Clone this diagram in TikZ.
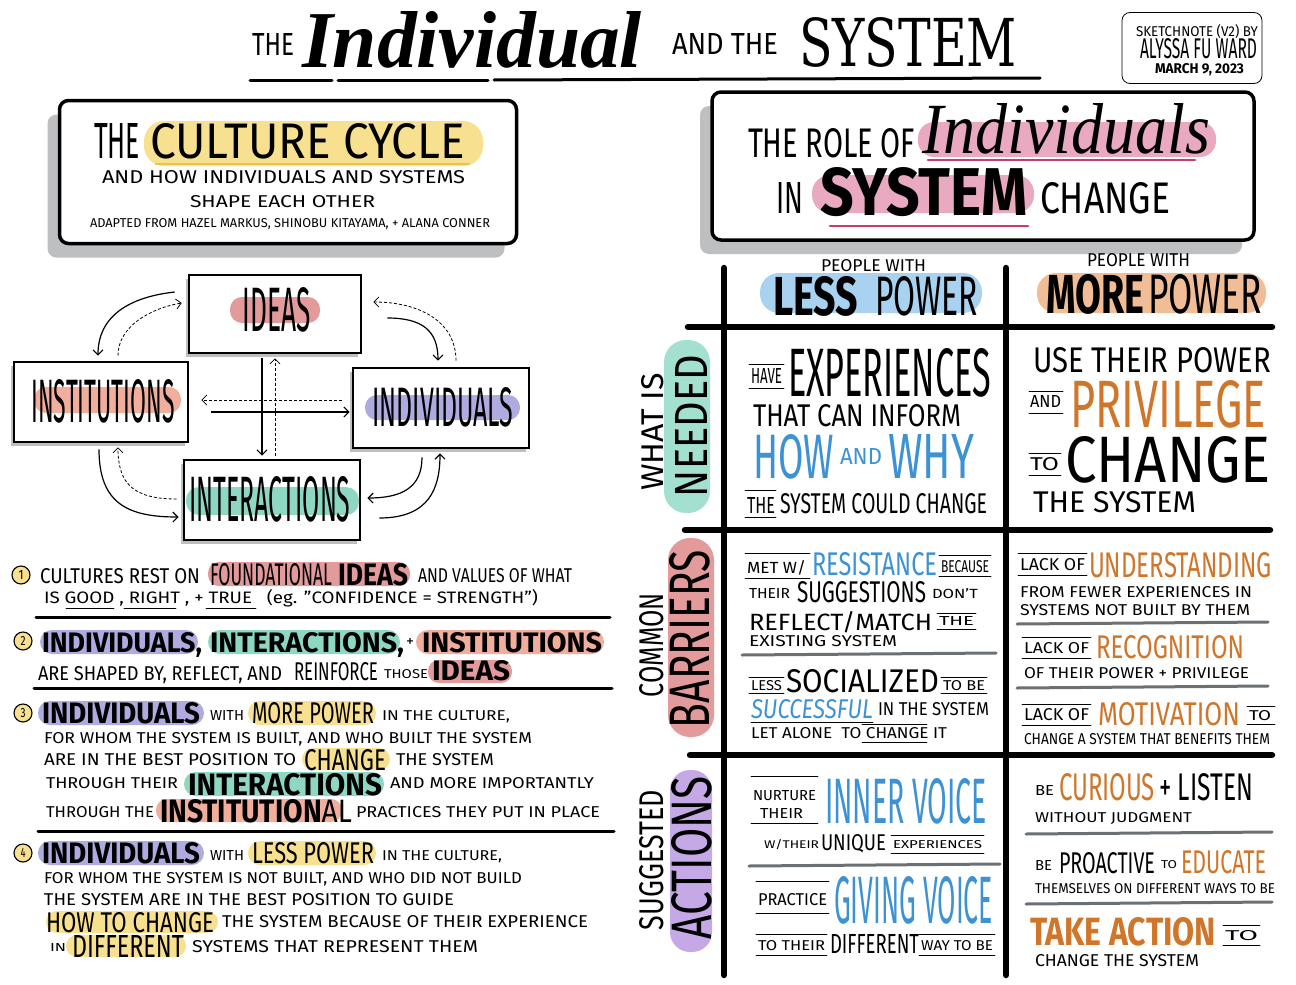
\documentclass[tikz,border=0pt]{standalone}
\usepackage{fontspec}
\setmainfont{Fira Sans}
\newfontfamily\brushfont{Liberation Serif}
\newfontfamily\slabfont{DejaVu Serif}
\usepackage{graphicx}
\usepackage{tikz}
\usetikzlibrary{positioning,calc,arrows.meta,shadows}

\definecolor{hlyellow}{HTML}{F7E08F}
\definecolor{hlred}{HTML}{E39A9B}
\definecolor{hlsalmon}{HTML}{F1AE9D}
\definecolor{hlpurple}{HTML}{ADABDF}
\definecolor{hlteal}{HTML}{8ED8C3}
\definecolor{hlblue}{HTML}{A8D2F0}
\definecolor{hlorange}{HTML}{F0BD97}
\definecolor{hlpink}{HTML}{E9A9C1}
\definecolor{hllilac}{HTML}{C5A8E6}
\definecolor{magline}{HTML}{C83A72}
\definecolor{inkblue}{HTML}{3D92D4}
\definecolor{inkorange}{HTML}{D0762A}
\definecolor{sepgray}{HTML}{6B7075}
\definecolor{shadowgray}{HTML}{BDBFC1}
\definecolor{yellowline}{HTML}{E8C447}

\newcommand{\hand}[3]{\resizebox{#1pt}{#2pt}{#3}}

\begin{document}
\begin{tikzpicture}[x=1pt,y=-1pt,
		txt/.style={anchor=base west,inner sep=0pt,outer sep=0pt},
		vtxt/.style={rotate=90,inner sep=0pt},
		pen/.style={line width=3pt,line cap=round},
		fine/.style={line width=0.9pt,line cap=round},
		rule/.style={line width=6.5pt,line cap=round},
		seprule/.style={sepgray,line width=3pt,line cap=round},
		box/.style={draw,line width=2.6pt,fill=white,minimum width=174pt,minimum height=80pt,inner sep=0pt,
			drop shadow={shadow xshift=-3pt,shadow yshift=-4pt,fill=shadowgray,opacity=1}},
		titlebox/.style={draw,line width=3.5pt,fill=white,rounded corners=9pt,inner sep=0pt,
			drop shadow={shadow xshift=-12pt,shadow yshift=-14pt,fill=shadowgray,opacity=1}},
		arr/.style={line width=1.2pt,-{Straight Barb[length=5pt,width=10pt]}},
		darr/.style={arr,line width=0.8pt,dash pattern=on 3pt off 2pt},
		numdot/.style={circle,draw,line width=1.1pt,fill=hlyellow,minimum size=18pt,inner sep=0pt}
	]

		% Page
		\useasboundingbox (0,0) rectangle (1296,985);
		\fill[white] (0,0) rectangle (1296,985);

		% Title
		\node[txt] (tthe) at (252,55) {\hand{42}{22}{THE}};
		\node[txt] (tindiv) at (302,67) {\hand{340}{56}{\brushfont\bfseries\itshape Individual}};
		\node[txt] (tand) at (672,54) {\hand{106}{21}{AND THE}};
		\node[txt] (tsys) at (799,66) {\hand{218}{49}{\slabfont SYSTEM}};
		\draw[pen] (250,80) -- (332,80);
		\draw[pen] (338,80) -- (488,80);
		\draw[pen] (494,80) -- (1040,78);

		% Credit
		\node[draw,line width=0.8pt,rounded corners=8pt,minimum width=140pt,minimum height=71pt] (credit) at (1192,48) {};
		\node[txt] (cr1) at (1136,36) {\hand{122}{12}{SKETCHNOTE (V2) BY}};
		\node[txt] (cr2) at (1140,58) {\hand{117}{20}{ALYSSA FU WARD}};
		\node[txt] (cr3) at (1155,74) {\hand{89}{10}{\bfseries MARCH 9, 2023}};

		% The culture cycle
		\node[titlebox,minimum width=457pt,minimum height=143pt] (cyclebox) at (288,172) {};
		\fill[hlyellow,rounded corners=20pt] (144,121) rectangle (483,166);
		\draw[yellowline,line width=2.5pt,line cap=round] (156,164) -- (469,164);
		\node[txt] (cthe) at (94,158) {\hand{46}{35}{THE}};
		\node[txt] (ctitle) at (150,158) {\hand{315}{35}{CULTURE CYCLE}};
		\node[txt] (csub1) at (102,183) {\hand{363}{13}{AND HOW INDIVIDUALS AND SYSTEMS}};
		\node[txt] (csub2) at (190,207) {\hand{185}{12}{SHAPE EACH OTHER}};
		\node[txt] (csrc) at (90,227) {\hand{400}{9}{ADAPTED FROM HAZEL MARKUS, SHINOBU KITAYAMA, + ALANA CONNER}};

		% The role of individuals
		\node[titlebox,minimum width=542pt,minimum height=148pt] (rolebox) at (983,166) {};
		\fill[hlpink,rounded corners=16pt] (918,122) rectangle (1216,157);
		\fill[hlpink,rounded corners=18pt] (812,175) rectangle (1034,213);
		\draw[magline,line width=2.5pt,line cap=round] (928,160) -- (1195,160);
		\draw[magline,line width=2.5pt,line cap=round] (830,226) -- (1028,226);
		\node[txt] (rthe) at (748,157) {\hand{167}{29}{THE ROLE OF}};
		\node[txt] (rindiv) at (922,153) {\hand{288}{50}{\brushfont\itshape Individuals}};
		\node[txt] (rin) at (776,213) {\hand{27}{31}{IN}};
		\node[txt] (rsys) at (820,215) {\hand{208}{48}{\bfseries SYSTEM}};
		\node[txt] (rchange) at (1040,213) {\hand{130}{31}{CHANGE}};

		% Cycle boxes
		\node[box,minimum width=172pt,minimum height=78pt] (ideas) at (275,314) {};
		\node[box] (inst) at (101,402) {};
		\node[box,minimum width=176pt] (indiv) at (441,408) {};
		\node[box,minimum width=176pt] (inter) at (272,500) {};
		\fill[hlred,rounded corners=12pt] (230,297) rectangle (320,323);
		\fill[hlsalmon,rounded corners=12pt] (34,387) rectangle (181,413);
		\fill[hlpurple,rounded corners=12pt] (365,395) rectangle (520,420);
		\fill[hlteal,rounded corners=13pt] (186,487) rectangle (359,515);
		\node[inner sep=0pt] (lideas) at (277,310) {\hand{68}{44}{IDEAS}};
		\node[inner sep=0pt] (linst) at (103,401) {\hand{143}{43}{INSTITUTIONS}};
		\node[inner sep=0pt] (lindiv) at (443,407) {\hand{141}{39}{INDIVIDUALS}};
		\node[inner sep=0pt] (linter) at (270,499) {\hand{161}{45}{INTERACTIONS}};

		% Cycle arrows
		\draw[arr] ($(ideas.west)+(-13,-22)$) .. controls +(-45,5) and +(0,-40) .. ($(inst.north)+(-3,-5)$);
		\draw[darr] ($(inst.north)+(17,-5)$) .. controls +(0,-30) and +(-30,5) .. ($(ideas.west)+(-6,-11)$);
		\draw[arr] ($(ideas.east)+(25,4)$) .. controls +(35,0) and +(0,-30) .. ($(indiv.north)+(-3,-6)$);
		\draw[darr] ($(indiv.north)+(15,-6)$) .. controls +(0,-40) and +(45,0) .. ($(ideas.east)+(11,-12)$);
		\draw[arr] ($(indiv.south)+(-19,8)$) .. controls +(0,30) and +(35,0) .. ($(inter.east)+(6,-2)$);
		\draw[arr] ($(inter.east)+(18,18)$) .. controls +(50,0) and +(0,35) .. ($(indiv.south)+(-1,4)$);
		\draw[arr] ($(inst.south)+(-2,6)$) .. controls +(0,55) and +(-50,0) .. ($(inter.west)+(-4,17)$);
		\draw[darr] ($(inter.west)+(-6,-1)$) .. controls +(-45,0) and +(0,35) .. ($(inst.south)+(17,4)$);
		\draw[arr] ($(ideas.south)+(-13,4)$) -- ($(inter.north)+(-10,-3)$);
		\draw[darr] ($(inter.north)+(3,-3)$) -- ($(ideas.south)+(0,4)$);
		\draw[darr] ($(indiv.west)+(-10,-8)$) -- ($(inst.east)+(12,-2)$);
		\draw[arr] ($(inst.east)+(22,10)$) -- ($(indiv.west)+(-2,4)$);

		% Point 1
		\node[numdot] (n1) at (21,575) {\hand{5}{9}{1}};
		\fill[hlred,rounded corners=11pt] (208,562) rectangle (410,586);
		\node[txt] (p1a) at (40,583) {\hand{160}{15}{CULTURES REST ON}};
		\node[txt] (p1b) at (210,585) {\hand{122}{22}{FOUNDATIONAL}};
		\node[txt] (p1c) at (338,585) {\hand{70}{22}{\bfseries IDEAS}};
		\node[txt] (p1d) at (418,582) {\hand{154}{14}{AND VALUES OF WHAT}};
		\node[txt] (p1e) at (44,603) {\hand{494}{14}{IS GOOD , RIGHT , + TRUE \ \ (eg. "CONFIDENCE = STRENGTH")}};
		\draw[fine] (66,608) -- (114,608);
		\draw[fine] (124,608) -- (176,608);
		\draw[fine] (206,608) -- (256,608);
		\draw[pen] (36,617) -- (610,617);

		% Point 2
		\node[numdot] (n2) at (23,641) {\hand{5}{9}{2}};
		\fill[hlpurple,rounded corners=12pt] (40,630) rectangle (198,654);
		\fill[hlteal,rounded corners=12pt] (208,630) rectangle (400,654);
		\fill[hlsalmon,rounded corners=12pt] (416,630) rectangle (604,654);
		\node[txt] (p2a) at (42,652) {\hand{160}{20}{\bfseries INDIVIDUALS,}};
		\node[txt] (p2b) at (210,652) {\hand{194}{20}{\bfseries INTERACTIONS,}};
		\node[txt] (p2c) at (406,646) {\hand{8}{8}{+}};
		\node[txt] (p2d) at (422,652) {\hand{180}{20}{\bfseries INSTITUTIONS}};
		\fill[hlred,rounded corners=11pt] (428,660) rectangle (512,683);
		\node[txt] (p2e) at (38,680) {\hand{244}{14}{ARE SHAPED BY, REFLECT, AND}};
		\node[txt] (p2f) at (294,680) {\hand{84}{18}{REINFORCE}};
		\node[txt] (p2g) at (384,678) {\hand{44}{9}{THOSE}};
		\node[txt] (p2h) at (432,680) {\hand{78}{20}{\bfseries IDEAS}};
		\draw[pen] (34,688) -- (612,688);

		% Point 3
		\node[numdot] (n3) at (23,713) {\hand{5}{9}{3}};
		\fill[hlpurple,rounded corners=12pt] (38,701) rectangle (204,725);
		\fill[hlyellow,rounded corners=12pt] (248,701) rectangle (376,725);
		\node[txt] (p3a) at (42,723) {\hand{158}{21}{\bfseries INDIVIDUALS}};
		\node[txt] (p3b) at (210,720) {\hand{34}{10}{WITH}};
		\node[txt] (p3c) at (252,723) {\hand{122}{21}{MORE POWER}};
		\node[txt] (p3d) at (382,720) {\hand{128}{10}{IN THE CULTURE,}};
		\node[txt] (p3e) at (44,743) {\hand{488}{11}{FOR WHOM THE SYSTEM IS BUILT, AND WHO BUILT THE SYSTEM}};
		\fill[hlyellow,rounded corners=11pt] (302,748) rectangle (390,770);
		\node[txt] (p3f) at (44,765) {\hand{252}{12}{ARE IN THE BEST POSITION TO}};
		\node[txt] (p3g) at (304,770) {\hand{82}{21}{CHANGE}};
		\node[txt] (p3h) at (396,765) {\hand{98}{12}{THE SYSTEM}};
		\fill[hlteal,rounded corners=12pt] (184,772) rectangle (384,796);
		\node[txt] (p3i) at (46,788) {\hand{132}{11}{THROUGH THEIR}};
		\node[txt] (p3j) at (188,795) {\hand{194}{22}{\bfseries INTERACTIONS}};
		\node[txt] (p3k) at (390,788) {\hand{204}{11}{AND MORE IMPORTANTLY}};
		\fill[hlsalmon,rounded corners=11pt] (156,799) rectangle (342,822);
		\node[txt] (p3l) at (46,817) {\hand{108}{11}{THROUGH THE}};
		\node[txt] (p3m) at (160,822) {\hand{192}{23}{{\bfseries INSTITUTION}AL}};
		\node[txt] (p3n) at (356,817) {\hand{244}{11}{PRACTICES THEY PUT IN PLACE}};
		\draw[pen] (38,831) -- (614,831);

		% Point 4
		\node[numdot] (n4) at (23,853) {\hand{5}{9}{4}};
		\fill[hlpurple,rounded corners=12pt] (38,841) rectangle (204,865);
		\fill[hlyellow,rounded corners=12pt] (248,841) rectangle (376,865);
		\node[txt] (p4a) at (42,863) {\hand{158}{21}{\bfseries INDIVIDUALS}};
		\node[txt] (p4b) at (210,860) {\hand{34}{10}{WITH}};
		\node[txt] (p4c) at (252,863) {\hand{122}{21}{LESS POWER}};
		\node[txt] (p4d) at (382,860) {\hand{120}{10}{IN THE CULTURE,}};
		\node[txt] (p4e) at (44,883) {\hand{478}{11}{FOR WHOM THE SYSTEM IS NOT BUILT, AND WHO DID NOT BUILD}};
		\node[txt] (p4f) at (44,905) {\hand{410}{12}{THE SYSTEM ARE IN THE BEST POSITION TO GUIDE}};
		\fill[hlyellow,rounded corners=11pt] (46,911) rectangle (218,933);
		\node[txt] (p4g) at (46,932) {\hand{168}{20}{HOW TO CHANGE}};
		\node[txt] (p4h) at (222,927) {\hand{366}{12}{THE SYSTEM BECAUSE OF THEIR EXPERIENCE}};
		\fill[hlyellow,rounded corners=11pt] (66,935) rectangle (186,957);
		\node[txt] (p4i) at (50,951) {\hand{16}{8}{IN}};
		\node[txt] (p4j) at (72,957) {\hand{112}{22}{DIFFERENT}};
		\node[txt] (p4k) at (192,952) {\hand{286}{12}{SYSTEMS THAT REPRESENT THEM}};

		% Grid
		\draw[rule] (724,268) -- (724,975);
		\draw[rule] (1006,268) -- (1006,975);
		\draw[rule] (688,327) -- (1272,327);
		\draw[rule] (685,530) -- (1270,530);
		\draw[rule] (690,755) -- (1272,755);

		% Column heads
		\fill[hlblue,rounded corners=19pt] (760,273) rectangle (982,313);
		\fill[hlorange,rounded corners=19pt] (1037,273) rectangle (1266,313);
		\node[txt] (hless1) at (821,271) {\hand{105}{12}{PEOPLE WITH}};
		\node[txt] (hless2) at (773,315) {\hand{85}{39}{\bfseries LESS}};
		\node[txt] (hless3) at (875,315) {\hand{103}{39}{POWER}};
		\node[txt] (hmore1) at (1087,266) {\hand{103}{13}{PEOPLE WITH}};
		\node[txt] (hmore2) at (1046,313) {\hand{98}{39}{\bfseries MORE}};
		\node[txt] (hmore3) at (1148,313) {\hand{114}{39}{POWER}};

		% Row heads
		\fill[hlteal!80,rounded corners=22pt] (664,340) rectangle (710,513);
		\fill[hlred,rounded corners=22pt] (668,538) rectangle (714,737);
		\fill[hllilac,rounded corners=20pt] (670,770) rectangle (712,952);
		\node[vtxt] (rwhat) at (653,432) {\hand{117}{22}{WHAT IS}};
		\node[vtxt] (rneed) at (691,426) {\hand{142}{32}{NEEDED}};
		\node[vtxt] (rcommon) at (652,645) {\hand{104}{24}{COMMON}};
		\node[vtxt] (rbarr) at (690,639) {\hand{178}{40}{BARRIERS}};
		\node[vtxt] (rsugg) at (652,860) {\hand{140}{24}{SUGGESTED}};
		\node[vtxt] (ract) at (692,858) {\hand{163}{40}{ACTIONS}};

		% Needed, less power
		\node[txt] (a1) at (751,383) {\hand{31}{15}{HAVE}};
		\draw[fine] (749,364) -- (784,364);
		\draw[fine] (749,388) -- (784,388);
		\node[txt] (a2) at (788,396) {\hand{203}{48}{EXPERIENCES}};
		\node[txt] (a3) at (753,426) {\hand{208}{22}{THAT CAN INFORM}};
		\node[txt] (a4) at (753,478) {\hand{81}{44}{\color{inkblue}HOW}};
		\node[txt] (a5) at (840,464) {\hand{42}{16}{\color{inkblue}AND}};
		\node[txt] (a6) at (888,478) {\hand{86}{44}{\color{inkblue}WHY}};
		\node[txt] (a7) at (747,513) {\hand{28}{16}{THE}};
		\draw[fine] (745,490) -- (776,490);
		\draw[fine] (745,517) -- (776,517);
		\node[txt] (a8) at (780,513) {\hand{207}{20}{SYSTEM COULD CHANGE}};

		% Needed, more power
		\node[txt] (b1) at (1033,372) {\hand{238}{25}{USE THEIR POWER}};
		\node[txt] (b2) at (1030,407) {\hand{31}{12}{AND}};
		\draw[fine] (1029,391) -- (1063,391);
		\draw[fine] (1029,413) -- (1063,413);
		\node[txt] (b3) at (1070,427) {\hand{196}{47}{\color{inkorange}PRIVILEGE}};
		\node[txt] (b4) at (1030,470) {\hand{29}{13}{TO}};
		\draw[fine] (1029,453) -- (1061,453);
		\draw[fine] (1029,475) -- (1061,475);
		\node[txt] (b5) at (1065,482) {\hand{206}{46}{CHANGE}};
		\node[txt] (b6) at (1033,512) {\hand{163}{21}{THE SYSTEM}};

		% Barriers, less power
		\node[txt] (c1) at (747,573) {\hand{59}{13}{MET W/}};
		\draw[fine] (745,553) -- (810,553);
		\draw[fine] (745,578) -- (810,578);
		\node[txt] (c2) at (812,575) {\hand{125}{23}{\color{inkblue}RESISTANCE}};
		\node[txt] (c3) at (941,572) {\hand{48}{12}{BECAUSE}};
		\draw[fine] (939,555) -- (991,555);
		\draw[fine] (939,576) -- (991,576);
		\node[txt] (c4) at (749,598) {\hand{41}{10}{THEIR}};
		\node[txt] (c5) at (797,602) {\hand{129}{21}{SUGGESTIONS}};
		\node[txt] (c6) at (932,598) {\hand{46}{10}{DON'T}};
		\node[txt] (c7) at (749,630) {\hand{183}{19}{REFLECT/MATCH}};
		\node[txt] (c8) at (939,625) {\hand{35}{9}{THE}};
		\draw[fine] (937,613) -- (976,613);
		\draw[fine] (937,629) -- (976,629);
		\node[txt] (c9) at (749,646) {\hand{148}{11}{EXISTING SYSTEM}};
		\draw[seprule] (742,655) -- (996,653);
		\node[txt] (c10) at (751,690) {\hand{31}{10}{LESS}};
		\draw[fine] (749,677) -- (784,677);
		\draw[fine] (749,693) -- (784,693);
		\node[txt] (c11) at (786,692) {\hand{153}{23}{SOCIALIZED}};
		\node[txt] (c12) at (943,690) {\hand{42}{10}{TO BE}};
		\draw[fine] (941,677) -- (987,677);
		\draw[fine] (941,693) -- (987,693);
		\node[txt] (c13) at (751,718) {\hand{122}{19}{\color{inkblue}\itshape SUCCESSFUL}};
		\draw[fine] (751,722) -- (873,722);
		\node[txt] (c14) at (878,715) {\hand{111}{13}{IN THE SYSTEM}};
		\node[txt] (c15) at (751,738) {\hand{196}{11}{LET ALONE \ TO CHANGE IT}};
		\draw[fine] (862,724) -- (927,724);
		\draw[fine] (862,742) -- (927,742);

		% Barriers, more power
		\node[txt] (d1) at (1020,570) {\hand{65}{12}{LACK OF}};
		\draw[fine] (1018,553) -- (1087,553);
		\draw[fine] (1018,575) -- (1087,575);
		\node[txt] (d2) at (1089,577) {\hand{183}{25}{\color{inkorange}UNDERSTANDING}};
		\node[txt] (d3) at (1020,597) {\hand{232}{11}{FROM FEWER EXPERIENCES IN}};
		\node[txt] (d4) at (1020,615) {\hand{230}{11}{SYSTEMS NOT BUILT BY THEM}};
		\draw[seprule] (1017,624) -- (1268,622);
		\node[txt] (d5) at (1024,653) {\hand{65}{11}{LACK OF}};
		\draw[fine] (1022,637) -- (1091,637);
		\draw[fine] (1022,658) -- (1091,658);
		\node[txt] (d6) at (1096,658) {\hand{148}{23}{\color{inkorange}RECOGNITION}};
		\node[txt] (d7) at (1024,678) {\hand{225}{11}{OF THEIR POWER + PRIVILEGE}};
		\draw[seprule] (1017,688) -- (1268,686);
		\node[txt] (d8) at (1024,720) {\hand{65}{12}{LACK OF}};
		\draw[fine] (1022,704) -- (1091,704);
		\draw[fine] (1022,725) -- (1091,725);
		\node[txt] (d9) at (1098,725) {\hand{142}{23}{\color{inkorange}MOTIVATION}};
		\node[txt] (d10) at (1249,720) {\hand{22}{10}{TO}};
		\draw[fine] (1247,706) -- (1275,706);
		\draw[fine] (1247,724) -- (1275,724);
		\node[txt] (d11) at (1024,744) {\hand{246}{11}{CHANGE A SYSTEM THAT BENEFITS THEM}};

		% Actions, less power
		\node[txt] (e1) at (753,800) {\hand{63}{10}{NURTURE}};
		\node[txt] (e2) at (760,818) {\hand{43}{10}{THEIR}};
		\draw[fine] (751,776) -- (818,776);
		\draw[fine] (751,823) -- (818,823);
		\node[txt] (e3) at (825,823) {\hand{162}{45}{\color{inkblue}INNER VOICE}};
		\node[txt] (e4) at (764,848) {\hand{55}{9}{W/THEIR}};
		\node[txt] (e5) at (821,850) {\hand{65}{16}{UNIQUE}};
		\node[txt] (e6) at (893,848) {\hand{89}{8}{EXPERIENCES}};
		\draw[fine] (891,835) -- (984,835);
		\draw[fine] (891,853) -- (984,853);
		\draw[seprule] (749,866) -- (1000,864);
		\node[txt] (e7) at (758,905) {\hand{69}{12}{PRACTICE}};
		\draw[fine] (756,881) -- (829,881);
		\draw[fine] (756,913) -- (829,913);
		\node[txt] (e8) at (834,923) {\hand{159}{47}{\color{inkblue}GIVING VOICE}};
		\node[txt] (e9) at (758,950) {\hand{67}{10}{TO THEIR}};
		\draw[fine] (756,934) -- (827,934);
		\draw[fine] (756,955) -- (827,955);
		\node[txt] (e10) at (830,953) {\hand{89}{19}{DIFFERENT}};
		\node[txt] (e11) at (921,950) {\hand{72}{10}{WAY TO BE}};
		\draw[fine] (919,934) -- (995,934);
		\draw[fine] (919,955) -- (995,955);

		% Actions, more power
		\node[txt] (f1) at (1035,795) {\hand{19}{10}{BE}};
		\node[txt] (f2) at (1059,800) {\hand{96}{27}{\color{inkorange}CURIOUS}};
		\node[txt] (f3) at (1159,800) {\hand{94}{27}{+ LISTEN}};
		\node[txt] (f4) at (1035,822) {\hand{157}{10}{WITHOUT JUDGMENT}};
		\draw[seprule] (1026,834) -- (1272,832);
		\node[txt] (f5) at (1035,870) {\hand{17}{10}{BE}};
		\node[txt] (f6) at (1059,873) {\hand{96}{21}{PROACTIVE}};
		\node[txt] (f7) at (1161,868) {\hand{16}{8}{TO}};
		\node[txt] (f8) at (1181,873) {\hand{85}{23}{\color{inkorange}EDUCATE}};
		\node[txt] (f9) at (1035,893) {\hand{240}{10}{THEMSELVES ON DIFFERENT WAYS TO BE}};
		\draw[seprule] (1026,904) -- (1272,902);
		\node[txt] (f10) at (1030,945) {\hand{186}{28}{\color{inkorange}\bfseries TAKE ACTION}};
		\node[txt] (f11) at (1225,940) {\hand{33}{10}{TO}};
		\draw[fine] (1223,925) -- (1260,925);
		\draw[fine] (1223,945) -- (1260,945);
		\node[txt] (f12) at (1035,966) {\hand{164}{12}{CHANGE THE SYSTEM}};

	\end{tikzpicture}
\end{document}
